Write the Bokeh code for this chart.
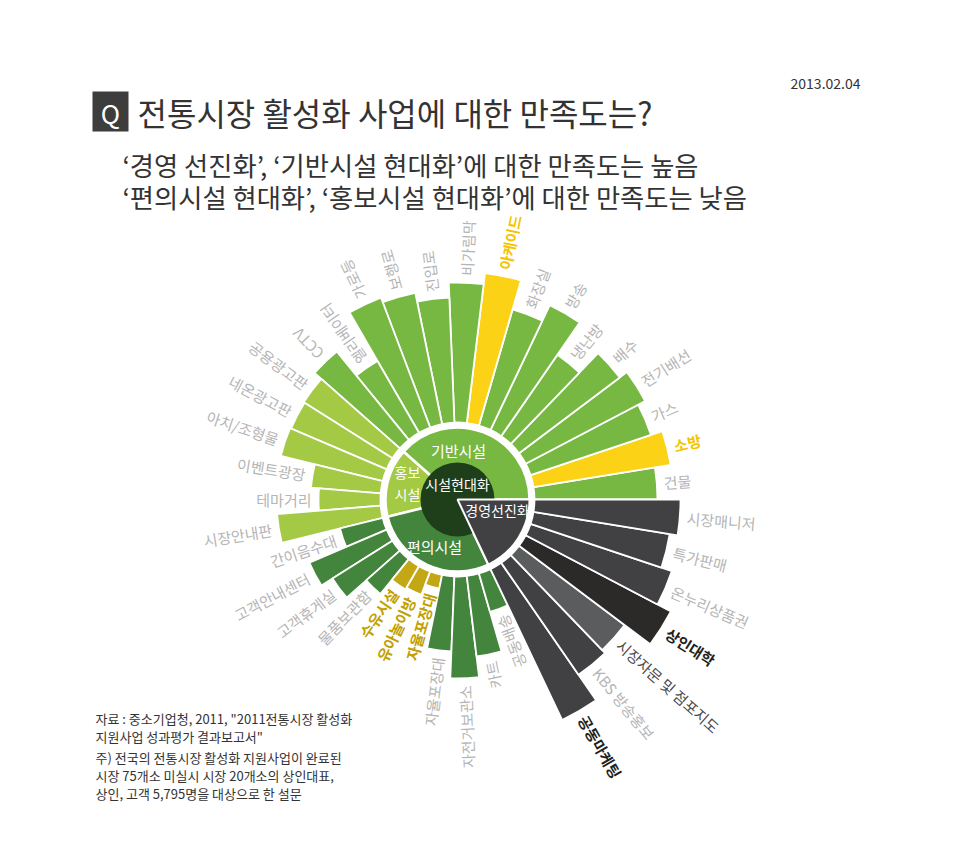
import math
from bokeh.plotting import figure
from bokeh.models import Range1d, ColumnDataSource
from bokeh.embed import file_html
from bokeh.resources import INLINE
from bokeh.core.properties import value

FONT = "Noto Sans CJK KR"

# ---------------- data ----------------
group_names = ["기반시설", "홍보시설", "편의시설", "경영선진화"]
group_labels = ["기반시설", "홍보\n시설", "편의시설", "경영선진화"]
center_label = "시설현대화"

infra_items = ["건물", "소방", "가스", "전기배선", "배수", "냉난방", "방송", "화장실",
               "아케이드", "비가림막", "진입로", "보행로", "가로등", "엘리베이터", "CCTV"]
infra_values = [123, 139, 127, 135, 126, 99, 138, 121, 151, 140, 125, 134, 139, 83, 114]

promo_items = ["공용광고판", "네온광고판", "아치/조형물", "이벤트광장", "테마거리", "시장안내판"]
promo_values = [105, 104, 105, 70, 62, 104]

conv_items = ["간이음수대", "고객안내센터", "고객휴게실", "물품보관함", "수유시설", "유아놀이방",
              "자율포장대", "자율포장대", "자전거보관소", "카트", "공동배송"]
conv_values = [44, 84, 71, 45, 27, 25, 14, 75, 102, 81, 40]

mgmt_items = ["공동마케팅", "KBS 방송홍보", "시장자문 및 점포지도", "상인대학", "온누리상품권",
              "특가판매", "시장매니저"]
mgmt_values = [167, 136, 132, 164, 149, 138, 146]

title = "전통시장 활성화 사업에 대한 만족도는?"
subtitle = ["‘경영 선진화’, ‘기반시설 현대화’에 대한 만족도는 높음",
            "‘편의시설 현대화’, ‘홍보시설 현대화’에 대한 만족도는 낮음"]
date_text = "2013.02.04"
notes = ["자료 : 중소기업청, 2011, \"2011전통시장 활성화",
         "지원사업 성과평가 결과보고서\"",
         "주) 전국의 전통시장 활성화 지원사업이 완료된",
         "시장 75개소 미실시 시장 20개소의 상인대표,",
         "상인, 고객 5,795명을 대상으로 한 설문"]

# ---------------- styles ----------------
bar_color = {"기반시설": "#77b843", "홍보시설": "#a4c945", "편의시설": "#43853d", "경영선진화": "#414143"}
ring_color = bar_color
special_bar = {("기반시설", 1): "#fcd217", ("기반시설", 8): "#fcd217",
               ("편의시설", 4): "#c4a715", ("편의시설", 5): "#c4a715", ("편의시설", 6): "#c4a715",
               ("경영선진화", 3): "#2b2a28", ("경영선진화", 2): "#5a5c5d"}
label_grey = "#b5b5b5"
special_label = {("기반시설", 1): ("#f5c300", "bold"), ("기반시설", 8): ("#f5c300", "bold"),
                 ("편의시설", 4): ("#c2a000", "bold"), ("편의시설", 5): ("#c2a000", "bold"),
                 ("편의시설", 6): ("#c2a000", "bold"),
                 ("경영선진화", 0): ("#231f20", "bold"), ("경영선진화", 3): ("#231f20", "bold"),
                 ("경영선진화", 2): ("#4a4a4c", "normal")}
inward_groups = {"홍보시설", "편의시설"}

# ---------------- geometry ----------------
def Y(py):
    return 861 - py

CX, CY = 457, Y(499)
R_CORE = 37
R_RING = 72
R_BASE = 77
LABEL_GAP = 7

groups = [("기반시설", infra_items, infra_values), ("홍보시설", promo_items, promo_values),
          ("편의시설", conv_items, conv_values), ("경영선진화", mgmt_items, mgmt_values)]
n_total = sum(len(g[1]) for g in groups)
step = 2 * math.pi / n_total

starts, ends, outers, colors = [], [], [], []
labels = []
group_spans = []
k = 0
for gname, items, vals in groups:
    g0 = k
    for j, (it, v) in enumerate(zip(items, vals)):
        a0 = k * step
        a1 = (k + 1) * step
        starts.append(a0)
        ends.append(a1)
        outers.append(R_BASE + v)
        colors.append(special_bar.get((gname, j), bar_color[gname]))
        col, style = special_label.get((gname, j), (label_grey, "normal"))
        labels.append((it, (a0 + a1) / 2, R_BASE + v, col, style, gname in inward_groups))
        k += 1
    group_spans.append((gname, g0 * step, k * step))

p = figure(width=944, height=845, x_range=Range1d(0, 944), y_range=Range1d(16, 861),
           output_backend="svg", toolbar_location=None, min_border=0,
           x_axis_type=None, y_axis_type=None)
p.grid.visible = False
p.outline_line_color = None
p.background_fill_color = "white"
p.border_fill_color = "white"

# bars
src = ColumnDataSource(dict(start=starts, end=ends, outer=outers, color=colors))
p.annular_wedge(x=CX, y=CY, inner_radius=R_BASE, outer_radius="outer",
                start_angle="start", end_angle="end", fill_color="color",
                line_color="white", line_width=1.8, source=src)

# ring
for gname, a0, a1 in group_spans:
    if gname == "경영선진화":
        continue
    p.wedge(x=CX, y=CY, radius=R_RING, start_angle=a0, end_angle=a1,
            fill_color=ring_color[gname], line_color="white", line_width=2.5)
p.circle(x=CX, y=CY, radius=R_CORE, fill_color="#1e3f1a", line_color=None)
for gname, a0, a1 in group_spans:
    if gname == "경영선진화":
        p.wedge(x=CX, y=CY, radius=R_RING, start_angle=a0, end_angle=a1,
                fill_color=ring_color[gname], line_color="white", line_width=2)

# radial labels
for it, ang, r_end, col, style, inward in labels:
    rr = r_end + LABEL_GAP
    x = CX + rr * math.cos(ang)
    y = CY + rr * math.sin(ang)
    if inward:
        a = ang - math.pi
        align = "right"
    else:
        a = ang
        align = "left"
    p.text(x=[x], y=[y], text=[it], angle=a, text_font=value(FONT), text_font_size="15px",
           text_color=col, text_font_style=style, text_align=align, text_baseline="middle")

# ring labels
def put(x, y, t, size, color, align="center", style="normal", baseline="middle"):
    p.text(x=[x], y=[Y(y)], text=[t], text_font=value(FONT), text_font_size=size,
           text_color=color, text_align=align, text_baseline=baseline, text_font_style=style)

put(457, 483, center_label, "14px", "white")
put(458, 450, group_labels[0], "15px", "white")
put(407, 471, group_labels[1].split("\n")[0], "14px", "white")
put(407, 493, group_labels[1].split("\n")[1], "14px", "white")
put(434, 546, group_labels[2], "15px", "white")
put(497, 509, group_labels[3], "14px", "white")

# header
p.rect(x=[110], y=[Y(111)], width=36, height=40, fill_color="#3d3d3d", line_color=None)
put(110, 112, "Q", "26px", "white")
put(137, 111, title, "32px", "#333333", align="left")
put(122, 164, subtitle[0], "26.3px", "#333333", align="left")
put(122, 196, subtitle[1], "26.3px", "#333333", align="left")
put(860, 83, date_text, "14px", "#333333", align="right")

# footnotes
for t, yy in zip(notes, [718, 736, 757, 775, 793]):
    put(95, yy, t, "13px", "#333333", align="left")

open("out.html", "w").write(file_html(p, INLINE))
